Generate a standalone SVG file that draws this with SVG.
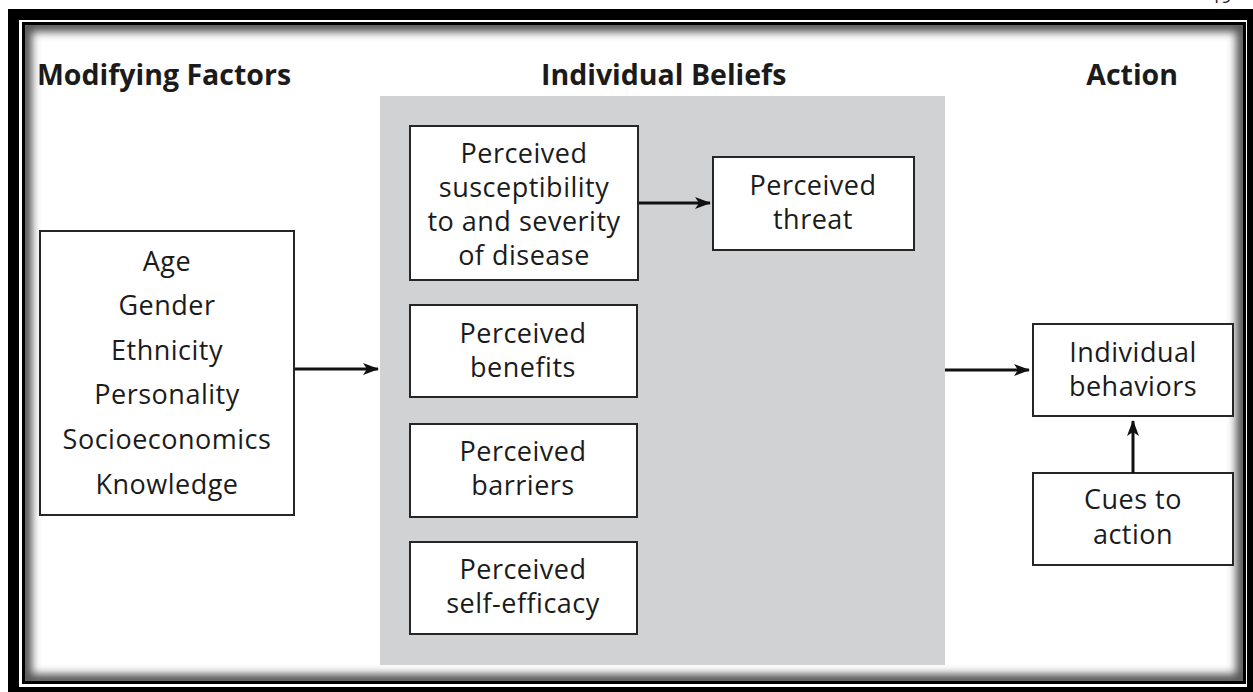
<svg xmlns="http://www.w3.org/2000/svg" width="1253" height="692" viewBox="0 0 1253 692">
  <style>
    .hdr { font-family: "Open Sans", "Noto Sans", "Liberation Sans", sans-serif; font-weight: 700; font-size: 28.5px; fill: #1b1b1b; }
    .lbl { font-family: "Open Sans", "Noto Sans", "Liberation Sans", sans-serif; font-size: 27px; letter-spacing: 0.5px; fill: #1b1b1b; text-anchor: middle; }
    .box { fill: #ffffff; stroke: #262626; stroke-width: 2; }
    .conn { stroke: #111; stroke-width: 3; fill: none; marker-end: url(#arrow); }
  </style>
  <defs>
    <marker id="arrow" viewBox="0 0 16 12" refX="15" refY="6" markerWidth="16" markerHeight="12" markerUnits="userSpaceOnUse" orient="auto">
      <path d="M0,0 L16,6 L0,12 L4,6 Z" fill="#111"/>
    </marker>
    <clipPath id="inner">
      <rect x="25" y="25" width="1218" height="656"/>
    </clipPath>
    <filter id="soft" x="-5%" y="-5%" width="110%" height="110%">
      <feGaussianBlur stdDeviation="4"/>
    </filter>
  </defs>

  <!-- page background -->
  <rect x="0" y="0" width="1253" height="692" fill="#ffffff"/>

  <!-- page number, cut off at the top edge -->
  <text x="1211" y="3" font-family="Open Sans, sans-serif" font-size="18" fill="#222">19</text>

  <!-- frame: heavy outer rule, thin inner rule, soft inner shading -->
  <g id="frame">
    <rect x="13.5" y="14.5" width="1239" height="678" fill="none" stroke="#000" stroke-width="11"/>
    <rect x="23.5" y="23.5" width="1221" height="659" fill="none" stroke="#000" stroke-width="3"/>
    <rect x="25" y="25" width="1218" height="656" fill="none" stroke="#555" stroke-width="14" filter="url(#soft)" clip-path="url(#inner)"/>
  </g>

  <!-- column headings -->
  <g id="headings">
    <text class="hdr" x="37" y="85">Modifying Factors</text>
    <text class="hdr" x="541" y="85">Individual Beliefs</text>
    <text class="hdr" x="1178" y="85" text-anchor="end">Action</text>
  </g>

  <!-- shaded beliefs panel -->
  <rect id="beliefs-panel" x="380" y="96" width="565" height="569" fill="#d1d2d4"/>

  <g id="modifying-factors">
    <rect class="box" x="40" y="231" width="254" height="284"/>
    <text class="lbl" x="167" y="271">Age</text>
    <text class="lbl" x="167" y="315">Gender</text>
    <text class="lbl" x="167" y="360">Ethnicity</text>
    <text class="lbl" x="167" y="404">Personality</text>
    <text class="lbl" x="167" y="449">Socioeconomics</text>
    <text class="lbl" x="167" y="494">Knowledge</text>
  </g>

  <g id="susceptibility">
    <rect class="box" x="410" y="126" width="228" height="154"/>
    <text class="lbl" x="524" y="163">Perceived</text>
    <text class="lbl" x="524" y="197">susceptibility</text>
    <text class="lbl" x="524" y="231">to and severity</text>
    <text class="lbl" x="524" y="265">of disease</text>
  </g>

  <g id="threat">
    <rect class="box" x="713" y="157" width="201" height="93"/>
    <text class="lbl" x="813" y="195">Perceived</text>
    <text class="lbl" x="813" y="229">threat</text>
  </g>

  <g id="benefits">
    <rect class="box" x="410" y="305" width="227" height="92"/>
    <text class="lbl" x="523" y="343">Perceived</text>
    <text class="lbl" x="523" y="377">benefits</text>
  </g>

  <g id="barriers">
    <rect class="box" x="410" y="424" width="227" height="93"/>
    <text class="lbl" x="523" y="461">Perceived</text>
    <text class="lbl" x="523" y="495">barriers</text>
  </g>

  <g id="self-efficacy">
    <rect class="box" x="410" y="542" width="227" height="92"/>
    <text class="lbl" x="523" y="579">Perceived</text>
    <text class="lbl" x="523" y="613">self-efficacy</text>
  </g>

  <g id="behaviors">
    <rect class="box" x="1033" y="324" width="200" height="92"/>
    <text class="lbl" x="1133" y="362">Individual</text>
    <text class="lbl" x="1133" y="396">behaviors</text>
  </g>

  <g id="cues">
    <rect class="box" x="1033" y="473" width="200" height="92"/>
    <text class="lbl" x="1133" y="509">Cues to</text>
    <text class="lbl" x="1133" y="544">action</text>
  </g>

  <g id="connectors">
    <line class="conn" x1="295" y1="369" x2="378" y2="369"/>
    <line class="conn" x1="639" y1="203" x2="710" y2="203"/>
    <line class="conn" x1="945" y1="370" x2="1029" y2="370"/>
    <line class="conn" x1="1133" y1="473" x2="1133" y2="421"/>
  </g>
</svg>
